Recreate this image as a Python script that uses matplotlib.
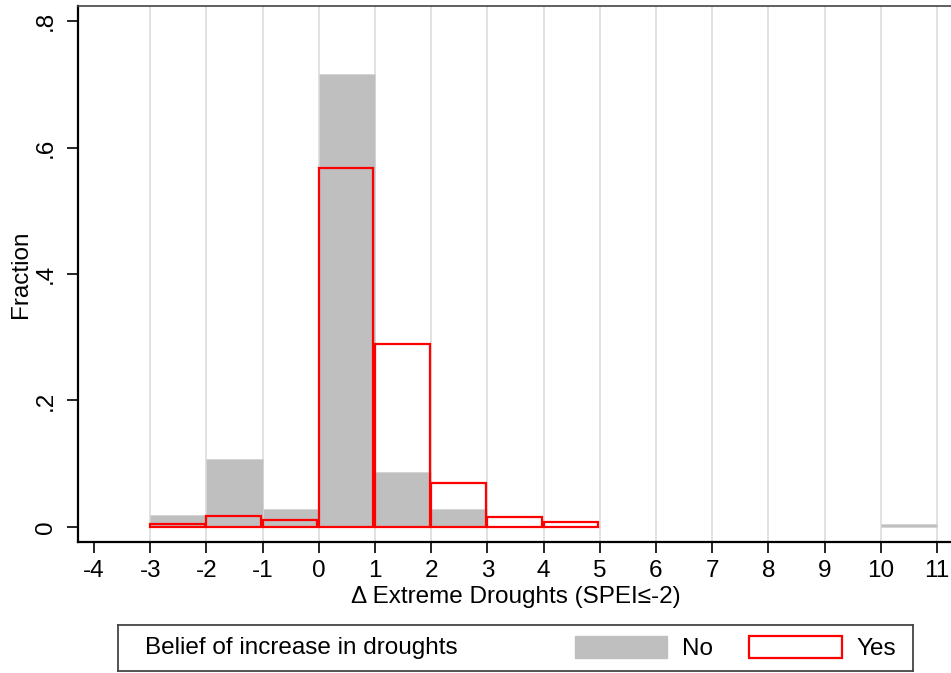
#!/usr/bin/env python3
# Histogram of change in extreme droughts by belief group (Stata-like look).

import matplotlib.pyplot as plt
from matplotlib.patches import Patch

plt.rcParams["font.family"] = ["Liberation Sans", "DejaVu Sans"]
plt.rcParams["axes.unicode_minus"] = False

# bin left edges (width 1) and fractions
no_bins = [-3, -2, -1, 0, 1, 2, 3, 4, 10]
no_frac = [0.019, 0.107, 0.029, 0.716, 0.087, 0.029, 0.0, 0.002, 0.004]
yes_bins = [-3, -2, -1, 0, 1, 2, 3, 4]
yes_frac = [0.004, 0.017, 0.011, 0.567, 0.290, 0.070, 0.015, 0.008]

xticks = list(range(-4, 12))
yticks = [0, 0.2, 0.4, 0.6, 0.8]
ytick_labels = ["0", ".2", ".4", ".6", ".8"]
group_title = "Belief of increase in droughts"
group_labels = ["No", "Yes"]

fs = 17.5
gray = "#bfbfbf"
red = "#ff0000"

fig = plt.figure(figsize=(9.51, 6.73), dpi=100)
ax = fig.add_axes([78 / 951, 131 / 673, 875 / 951, 536 / 673])

for x in range(-3, 12):
    ax.axvline(x, color="#dedede", linewidth=1.3, zorder=0)

ax.bar(no_bins, no_frac, width=1, align="edge", color=gray,
       edgecolor="#d4d4d4", linewidth=0.6, zorder=2)
ax.bar(yes_bins, yes_frac, width=0.97, align="edge", fill=False,
       edgecolor=red, linewidth=1.6, zorder=3)

ax.set_xlim(-4.285, 11.285)
ax.set_ylim(-0.024, 0.824)
ax.set_xticks(xticks)
ax.set_yticks(yticks)
ax.set_yticklabels(ytick_labels, rotation=90, va="center")
ax.tick_params(axis="both", labelsize=fs, length=8, width=1.2, direction="out",
               color="black")
ax.tick_params(axis="x", pad=5)
ax.tick_params(axis="y", pad=7)
ax.set_xlabel("Δ Extreme Droughts (SPEI≤-2)", fontsize=fs, labelpad=3)
ax.set_ylabel("Fraction", fontsize=fs, labelpad=2)

for side in ["left", "bottom"]:
    ax.spines[side].set_linewidth(1.6)
    ax.spines[side].set_color("black")
for side in ["top", "right"]:
    ax.spines[side].set_linewidth(1.2)
    ax.spines[side].set_color("#444444")

# legend box below the plot
lax = fig.add_axes([118 / 951, 2 / 673, 795 / 951, 46 / 673])
lax.set_xticks([])
lax.set_yticks([])
for s in lax.spines.values():
    s.set_linewidth(1.3)
    s.set_color("#444444")
lax.text(27 / 795, 0.5, group_title, transform=lax.transAxes,
         fontsize=fs, va="center", ha="left")
handles = [Patch(facecolor=gray, edgecolor=gray),
           Patch(facecolor="white", edgecolor=red, linewidth=1.6)]
lax.legend(handles, group_labels, ncol=2, loc="center right", frameon=False,
           fontsize=fs, handlelength=3.8, handleheight=1.0,
           handletextpad=0.6, columnspacing=1.5, borderaxespad=0.3)

fig.savefig("out.png", dpi=100)
